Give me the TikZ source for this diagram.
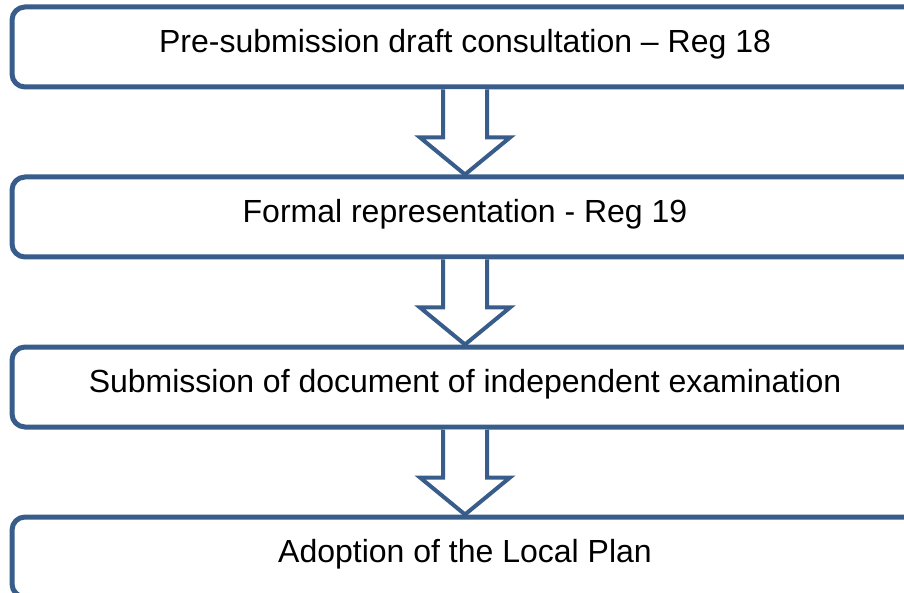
\documentclass[tikz,border=0pt]{standalone}
\usepackage{fontspec}
\setmainfont{Liberation Sans}
\usetikzlibrary{calc}
\definecolor{planblue}{HTML}{385D8A}
\tikzset{
  stage/.style={draw=planblue, line width=5pt, rounded corners=13pt, fill=white,
    minimum width=906pt, minimum height=80pt, text height=23.6pt, text depth=11.7pt,
    font=\fontsize{32}{38}\selectfont},
  flow/.style={draw=planblue, line width=4pt, fill=white, line join=miter}
}
\begin{document}
\begin{tikzpicture}[x=1pt, y=-1pt]
\useasboundingbox (0,0) rectangle (904,593);
% Stages
\node[stage] (s1) at (465, 47) {Pre-submission draft consultation -- Reg 18};
\node[stage] (s2) at (465,217) {Formal representation - Reg 19};
\node[stage] (s3) at (465,387) {Submission of document of independent examination};
\node[stage] (s4) at (465,557) {Adoption of the Local Plan};
% Arrows
\foreach \a/\b in {s1/s2, s2/s3, s3/s4}
  \draw[flow] ($(\a.south)+(-22,0)$) -- ++(0,48) -- ++(-23,0) -- (\b.north)
    -- ($(\a.south)+(45,48)$) -- ++(-23,0) -- ($(\a.south)+(22,0)$);
\end{tikzpicture}
\end{document}
